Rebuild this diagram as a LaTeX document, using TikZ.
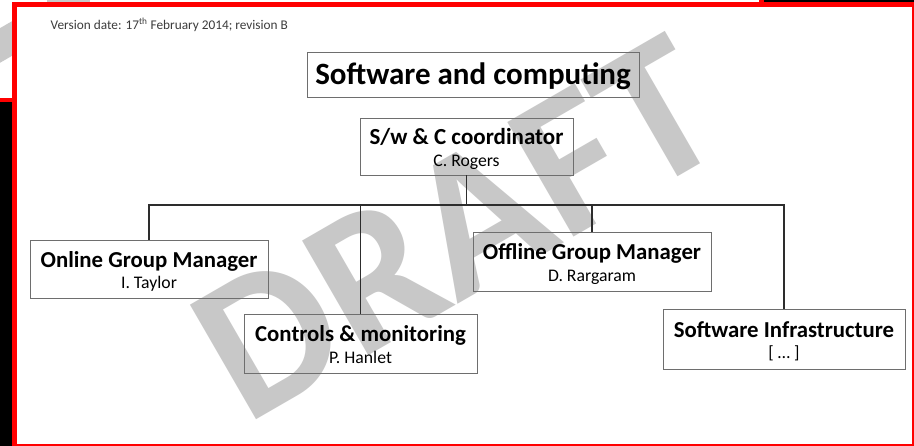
\documentclass[tikz,border=0pt]{standalone}
\usepackage{fontspec}
\setmainfont{Carlito}
\definecolor{slidered}{RGB}{255,0,0}
\definecolor{wmgrey}{RGB}{200,200,200}
\definecolor{boxgrey}{RGB}{110,110,110}
\definecolor{linegrey}{RGB}{45,45,45}
\definecolor{inkgrey}{RGB}{60,60,60}
\newcommand{\roletitle}{\fontsize{22.8}{21.5}\selectfont\bfseries}
\newcommand{\rolename}{\fontsize{17.7}{21.5}\selectfont}
\begin{document}
\begin{tikzpicture}[x=1pt,y=-1pt,
  orgbox/.style={draw=boxgrey,line width=0.9pt,inner sep=0pt,align=center,text=black,
    font=\rolename,text height=41.6pt,text depth=2pt},
  conn/.style={draw=linegrey,line width=1.4pt}]
\useasboundingbox (0,0) rectangle (914,446);
\begin{scope}
\clip (0,0) rectangle (914,446);
% dark backdrop
\fill[black] (0,0) rectangle (914,446);
% earlier slide lying underneath, top left
\fill[white] (-10,-10) rectangle (761.5,100);
\fill[wmgrey, rotate around={30:(6,42)}] (-20,27) rectangle (30,57);
\fill[wmgrey] (47,-5) rectangle (90,2.6);
\draw[slidered,line width=4.5pt] (-10,-10) rectangle (761.5,100);
% front slide
\fill[white] (14.5,4.75) rectangle (914,446);
\draw[slidered,line width=4.5pt] (14.5,4.75) rectangle (914,446);
\end{scope}

% watermark
\node[rotate=30,text=wmgrey,inner sep=0pt,font=\fontsize{204}{204}\selectfont\bfseries] (wm) at (457,228) {DRAFT};

% revision note
\node[anchor=base west,inner sep=0pt,text=inkgrey,font=\fontsize{13.3}{14}\selectfont] (version) at (50.5,29.5) {Version date: 17\textsuperscript{th} February 2014; revision B};

% org chart boxes
\node[orgbox,minimum width=332pt,minimum height=45pt,font=\fontsize{31}{34}\selectfont\bfseries,text height=21pt,text depth=0pt] (main) at (473,74.5) {Software and computing};
\node[orgbox,minimum width=213pt,minimum height=57pt] (coord) at (466.5,146.5) {{\fontsize{23}{21.5}\selectfont\bfseries S/w \& C coordinator}\\C. Rogers};
\node[orgbox,minimum width=238pt,minimum height=58pt] (online) at (149,269) {{\roletitle Online Group Manager}\\I. Taylor};
\node[orgbox,minimum width=233pt,minimum height=59pt] (controls) at (360.5,343.5) {{\roletitle Controls \& monitoring}\\P. Hanlet};
\node[orgbox,minimum width=238pt,minimum height=59pt] (offline) at (592,261.5) {{\roletitle Offline Group Manager}\\D. Rargaram};
\node[orgbox,minimum width=242pt,minimum height=60pt] (infra) at (784,339) {{\roletitle Software Infrastructure}\\{[ … ]}};

% connectors
\coordinate (bus) at (466.5,205);
\draw[conn] (coord.south) -- (coord.south |- bus);
\draw[conn] (online.north) -- (online.north |- bus) -- (infra.north |- bus) -- (infra.north);
\draw[conn] (controls.north) -- (controls.north |- bus);
\draw[conn] (offline.north) -- (offline.north |- bus);
\end{tikzpicture}
\end{document}
